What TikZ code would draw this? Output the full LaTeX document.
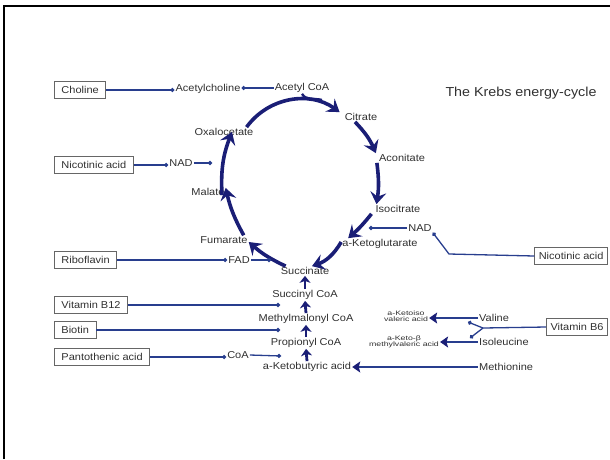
\documentclass[tikz,border=0pt]{standalone}
\usepackage{fontspec}
\setmainfont[FakeStretch=1.1]{Liberation Sans}
\newfontfamily\widefont[FakeStretch=1.35]{Liberation Sans}
\usetikzlibrary{positioning}
\usetikzlibrary{arrows.meta}

\definecolor{krebsblue}{RGB}{26,30,118}
\definecolor{linkblue}{RGB}{40,62,142}
\definecolor{textgray}{RGB}{48,48,48}

\begin{document}
\begin{tikzpicture}[x=1pt, y=-1pt,
label/.style={text=textgray, font=\fontsize{10}{12}\selectfont, inner sep=1pt},
tiny/.style={text=textgray, font=\widefont\fontsize{6.5}{6.5}\selectfont, align=center, inner sep=1pt},
vitbox/.style={draw=black!60, line width=0.9pt, text=textgray, font=\fontsize{10}{12}\selectfont, inner xsep=7pt, minimum height=17pt},
cycle/.style={krebsblue, line width=3.6pt, -{Stealth[length=12pt, width=16pt, inset=4.5pt]}},
stepup/.style={krebsblue, line width=2.8pt, -{Stealth[length=7pt, width=11pt, inset=2pt]}},
feed/.style={linkblue, line width=1.3pt, -{Circle[length=4pt]}},
convert/.style={linkblue, line width=1.3pt, -{Stealth[length=8pt, width=11pt, inset=1.5pt, color=krebsblue]}}
]
\useasboundingbox (0,0) rectangle (610,459);
% frame
\draw[line width=2.4pt] (4,459) -- (4,6) -- (610,6);

% title
\node[text=textgray, font=\fontsize{13}{15}\selectfont] (title) at (521,93) {The Krebs energy-cycle};

% cycle
\node[label] (acoa) at (302,88) {Acetyl CoA};
\node[label] (achol) at (208,89) {Acetylcholine};
\node[label] (oxal) at (224,132) {Oxalocetate};
\node[label] (citr) at (361,117) {Citrate};
\node[label] (acon) at (402,158) {Aconitate};
\node[label] (isoc) at (398,209) {Isocitrate};
\node[label] (nadr) at (420,228) {NAD};
\node[label] (akg) at (380,244) {a-Ketoglutarate};
\node[label] (succ) at (305,271) {Succinate};
\node[label] (fum) at (224,240) {Fumarate};
\node[label] (fad) at (239,260) {FAD};
\node[label] (mal) at (208,192) {Malate};
\node[label] (nadl) at (181,163) {NAD};

% lower chain
\node[label] (sucoa) at (305,295) {Succinyl CoA};
\node[label] (mmcoa) at (306,319) {Methylmalonyl CoA};
\node[label] (prcoa) at (306,343) {Propionyl CoA};
\node[label] (akb) at (307,367) {a-Ketobutyric acid};
\node[label] (coa) at (238,355) {CoA};

% amino acids
\node[label, anchor=west] (val) at (478,318) {Valine};
\node[label, anchor=west] (ile) at (478,342) {Isoleucine};
\node[label, anchor=west] (met) at (478,367) {Methionine};
\node[tiny] (kiv) at (406,316) {a-Ketoiso\\valeric acid};
\node[tiny] (kmv) at (404,342) {a-Keto-β\\methylvaleric acid};

% vitamins
\node[vitbox, anchor=west] (chol) at (54,90) {Choline};
\node[vitbox, anchor=west] (nicl) at (54,165) {Nicotinic acid};
\node[vitbox, anchor=west] (ribo) at (54,260) {Riboflavin};
\node[vitbox, anchor=west] (vb12) at (54,305) {Vitamin B12};
\node[vitbox, anchor=west] (biot) at (54,330) {Biotin};
\node[vitbox, anchor=west] (pant) at (54,357) {Pantothenic acid};
\node[vitbox, anchor=east, inner xsep=4pt] (nicr) at (608,256) {Nicotinic acid};
\node[vitbox, anchor=east, inner xsep=4pt] (vb6) at (608,327) {Vitamin B6};

% free ends
\coordinate (nadltip) at (212,163);
\coordinate (fadtip) at (271,260);
\coordinate (nadrtip) at (369,228);
\coordinate (nicrbend) at (449,254);
\coordinate (acoajoin) at (322,100);
\coordinate (b12tip) at (280,305);
\coordinate (biottip) at (280,330);
\coordinate (coatip) at (281,356);
\coordinate (fork) at (483,328);
\coordinate (valtip) at (468,322);
\coordinate (iletip) at (470,338);

% cycle arrows
\draw[cycle] ([xshift=-8pt]oxal.north east) to[bend left=45] ([xshift=-4pt]citr.north west);
\draw[krebsblue, line width=2.4pt] (acoa.south) to[out=-60, in=165] (acoajoin);
\draw[cycle] ([xshift=-6pt]citr.south) to[bend left=10] ([xshift=-2pt]acon.north west);
\draw[cycle] ([xshift=-1pt]acon.south west) to[bend left=8] ([xshift=2pt]isoc.north west);
\draw[cycle] ([xshift=-3pt]isoc.south west) to[bend left=5] ([xshift=7pt]akg.north west);
\draw[cycle] ([yshift=2pt]akg.west) to[bend left=20] ([xshift=7pt]succ.north);
\draw[cycle] ([xshift=6pt]succ.north west) to[bend left=8] ([yshift=-2pt]fum.east);
\draw[cycle] ([xshift=-5pt]fum.north east) to[bend left=8] ([yshift=9pt]mal.south east);
\draw[cycle] ([xshift=14pt, yshift=-8pt]mal.north) to[bend left=12] ([xshift=8pt, yshift=5pt]oxal.south);

% chain arrows
\draw[stepup] (akb.north) -- (prcoa.south);
\draw[stepup] (prcoa.north) -- (mmcoa.south);
\draw[stepup] (mmcoa.north) -- (sucoa.south);
\draw[stepup] (sucoa.north) -- (succ.south);

% feeds
\draw[feed] (chol.east) -- (chol.east -| achol.west);
\draw[feed] (acoa.west) -- (acoa.west -| achol.east);
\draw[feed] (nicl.east) -- (nicl.east -| nadl.west);
\draw[feed] (nadl.east) -- (nadltip);
\draw[feed] (ribo.east) -- (ribo.east -| fad.west);
\draw[feed] (fad.east) -- (fadtip);
\draw[feed] (nicr.west) -- (nicrbend) -- (nadr.south east);
\draw[feed] (nadr.west) -- (nadrtip);
\draw[feed] (vb12.east) -- (b12tip);
\draw[feed] (biot.east) -- (biottip);
\draw[feed] (pant.east) -- (pant.east -| coa.west);
\draw[feed] (coa.east) -- (coatip);
\draw[linkblue, line width=1.3pt] (vb6.west) -- (fork);
\draw[feed] (fork) -- (valtip);
\draw[feed] (fork) -- (iletip);

% conversions
\draw[convert] (val.west) -- (val.west -| kiv.east);
\draw[convert] (ile.west) -- (ile.west -| kmv.east);
\draw[convert] (met.west) -- (met.west -| akb.east);

\end{tikzpicture}
\end{document}
